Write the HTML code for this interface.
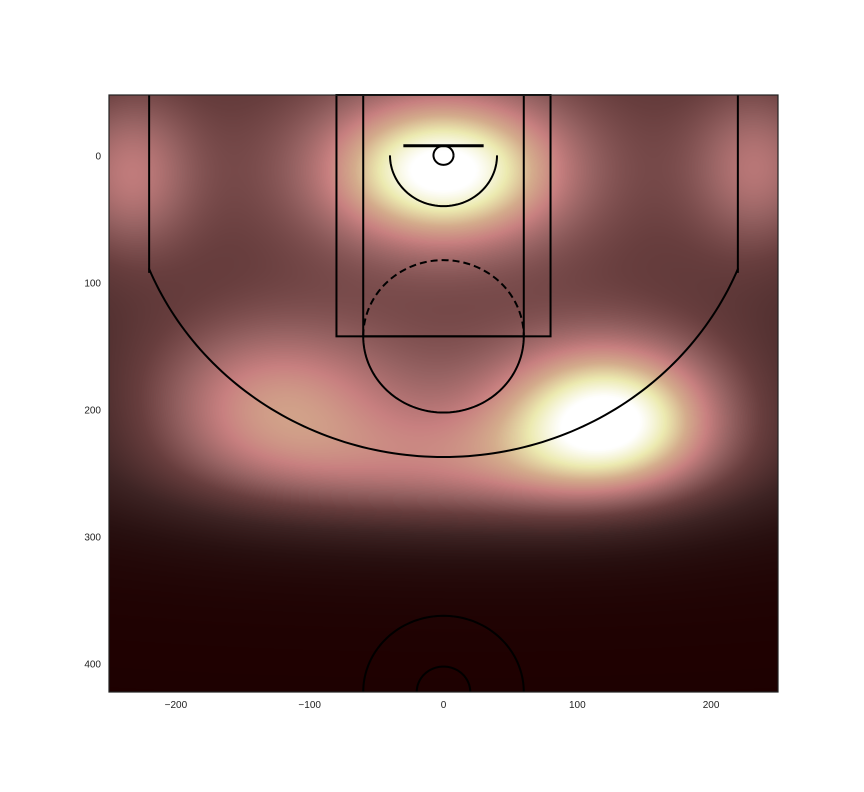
<!DOCTYPE html>
<html><head><meta charset="utf-8">
<style>
body{margin:0;background:#fff;}
#wrap{position:relative;width:864px;height:792px;font-family:"Liberation Sans",sans-serif;}
canvas{position:absolute;left:109px;top:95px;}
svg{position:absolute;left:0;top:0;}
</style></head><body>
<div id="wrap">
<canvas id="heat" width="669" height="597"></canvas>
<svg id="court" width="864" height="792"></svg>
</div>
<script>
// KDE hotspot data (court units)
const hotX = [0, 125, 100, -130, -235, 235, 0, 0, 0];
const hotY = [12, 205, 210, 195, 15, 10, 252, -20, 170];
const hotSX = [60, 55, 110, 70, 35, 35, 150, 400, 350];
const hotSY = [40, 40, 50, 45, 45, 45, 35, 120, 90];
const hotW = [0.62, 0.54, 0.2, 0.38, 0.26, 0.24, 0.32, 0.4, 0.2];
const xTicks = [-200, -100, 0, 100, 200];
const yTicks = [0, 100, 200, 300, 400];

const X0=109, X1=778, Y0=95, Y1=692;
const xMin=-250, xMax=250, yTop=-47.5, yBot=422.5;
function sx(v){return X0+(v-xMin)/(xMax-xMin)*(X1-X0);}
function sy(v){return Y0+(v-yTop)/(yBot-yTop)*(Y1-Y0);}

const cmapV=[0,0.12,0.25,0.4,0.52,0.64,0.76,0.88,1.0];
const cmapC=[[30,0,0],[40,16,16],[62,36,36],[104,62,62],[150,98,98],[200,128,128],[212,172,140],[236,234,176],[255,255,255]];
function cmap(t){t=Math.max(0,Math.min(1,t));for(let i=1;i<cmapV.length;i++){if(t<=cmapV[i]){const f=(t-cmapV[i-1])/(cmapV[i]-cmapV[i-1]);const a=cmapC[i-1],b=cmapC[i];return [a[0]+(b[0]-a[0])*f,a[1]+(b[1]-a[1])*f,a[2]+(b[2]-a[2])*f];}}return cmapC[cmapC.length-1];}

const cv=document.getElementById('heat');const ctx=cv.getContext('2d');
const W=cv.width,H=cv.height;const img=ctx.createImageData(W,H);
for(let j=0;j<H;j++){const yv=yTop+(j+0.5)/H*(yBot-yTop);
 for(let i=0;i<W;i++){const xv=xMin+(i+0.5)/W*(xMax-xMin);let d=0;
  for(let k=0;k<hotX.length;k++){const dx=(xv-hotX[k])/hotSX[k],dy=(yv-hotY[k])/hotSY[k];d+=hotW[k]*Math.exp(-0.5*(dx*dx+dy*dy));}
  const c=cmap(d);const p=(j*W+i)*4;img.data[p]=c[0];img.data[p+1]=c[1];img.data[p+2]=c[2];img.data[p+3]=255;}}
ctx.putImageData(img,0,0);

const NS='http://www.w3.org/2000/svg';const svg=document.getElementById('court');
function mk(tag,attrs,name){const e=document.createElementNS(NS,tag);for(const k in attrs)e.setAttribute(k,attrs[k]);
 
 
 svg.appendChild(e);return e;}
const kx=(X1-X0)/(xMax-xMin), ky=(Y1-Y0)/(yBot-yTop);
const ln={stroke:'#000','stroke-width':2,fill:'none'};
function arcPath(cx,cy,r,a0,a1,n){let d='';for(let i=0;i<=n;i++){const a=(a0+(a1-a0)*i/n)*Math.PI/180;d+=(i?'L':'M')+sx(cx+r*Math.cos(a)).toFixed(2)+' '+sy(cy+r*Math.sin(a)).toFixed(2);}return d;}
mk('path',Object.assign({d:arcPath(0,0,7.5,0,360,60)},ln),'hoop');
mk('line',Object.assign({x1:sx(-30),x2:sx(30),y1:sy(-7.5),y2:sy(-7.5)},ln,{'stroke-width':3}),'backboard');
mk('path',Object.assign({d:arcPath(0,0,40,0,180,60)},ln),'restricted-area-arc');
mk('rect',Object.assign({x:sx(-80),y:sy(-47.5),width:160*kx,height:190*ky},ln),'outer-paint-box');
mk('rect',Object.assign({x:sx(-60),y:sy(-47.5),width:120*kx,height:190*ky},ln),'inner-paint-box');
mk('path',Object.assign({d:arcPath(0,142.5,60,0,180,80)},ln),'free-throw-arc-bottom');
mk('path',Object.assign({d:arcPath(0,142.5,60,180,360,80),'stroke-dasharray':'7,4'},ln),'free-throw-arc-top-dashed');
mk('line',Object.assign({x1:sx(-220),x2:sx(-220),y1:sy(-47.5),y2:sy(92.5)},ln),'left-corner-three');
mk('line',Object.assign({x1:sx(220),x2:sx(220),y1:sy(-47.5),y2:sy(92.5)},ln),'right-corner-three');
mk('path',Object.assign({d:arcPath(0,0,237.5,22,158,120)},ln),'three-point-arc');
mk('path',Object.assign({d:arcPath(0,422.5,60,180,360,80)},ln),'center-court-outer-arc');
mk('path',Object.assign({d:arcPath(0,422.5,20,180,360,60)},ln),'center-court-inner-arc');
mk('rect',{x:X0,y:Y0,width:X1-X0,height:Y1-Y0,fill:'none',stroke:'#222','stroke-width':1.2},'plot-frame');
xTicks.forEach(v=>{const t=mk('text',{x:sx(v),y:708,'font-size':10,'text-anchor':'middle',fill:'#222'},'x-tick-label');t.textContent=v<0?'\u2212'+(-v):String(v);});
yTicks.forEach(v=>{const t=mk('text',{x:101,y:sy(v)+4,'font-size':10,'text-anchor':'end',fill:'#222'},'y-tick-label');t.textContent=String(v);});
</script>
</body></html>
